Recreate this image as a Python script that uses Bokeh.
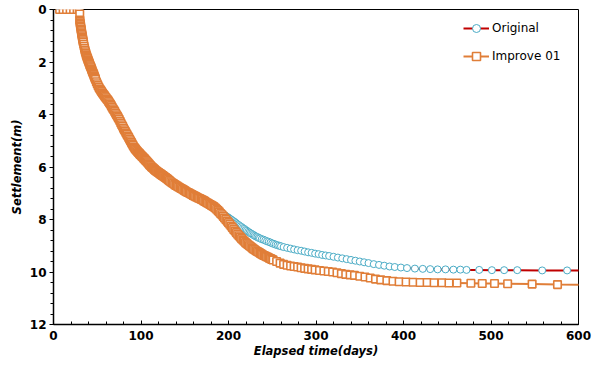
from bokeh.plotting import figure
from bokeh.models import Range1d, FixedTicker, Legend, LegendItem
from bokeh.embed import file_html
from bokeh.resources import INLINE

# ---- data (elapsed time in days, settlement in m) ----
# shared part of both curves (before they separate at ~185 days)
t_common = [7, 11, 15, 19, 23, 27, 29.5, 30, 30,
            30.25, 30.5, 30.75, 31, 31.25, 31.5, 31.75, 32, 32.25, 32.5, 32.75, 33, 33.25, 33.5, 33.75, 34,
            34.5, 35, 35.5, 36, 36.5, 37, 37.5, 38, 38.5, 39, 39.5, 40, 40.5, 41, 41.5, 42, 42.5, 43, 43.5,
            44, 44.5, 45, 45.5, 46, 46.5, 47, 47.5, 48,
            49, 50, 51, 52, 53, 54, 55, 56, 57, 58, 59, 60, 61, 62, 63, 64, 65, 66, 67, 68, 69, 70,
            71, 72, 73, 74, 75, 76, 77, 78, 79, 80, 81, 82, 83, 84, 85, 86, 87, 88, 89, 90,
            91, 92, 93, 94, 95, 96, 97, 98, 99, 100, 101, 102, 103, 104, 105, 106, 107, 108, 109, 110,
            111, 112, 113, 114, 115, 116, 117, 118, 119, 120, 121, 122, 123, 124, 125, 126, 127, 128, 129, 130, 131,
            132.5, 134, 135.5, 137, 138.5, 140, 141.5, 143, 144.5, 146, 147.5, 149, 150.5, 152, 153.5, 155,
            156.5, 158, 159.5, 161, 162.5, 164, 165.5, 167, 168.5, 170, 171.5, 173, 174.5, 176, 177.5, 179,
            180.5, 182, 183.5, 185]
s_common = [0, 0, 0, 0, 0, 0, 0, 0.17, 0.40,
            0.46, 0.52, 0.575, 0.63, 0.685, 0.74, 0.795, 0.85, 0.90, 0.95, 1.00, 1.05, 1.095, 1.14, 1.19, 1.24,
            1.32, 1.40, 1.48, 1.55, 1.61, 1.67, 1.73, 1.78, 1.83, 1.87, 1.92, 1.96, 2.01, 2.05, 2.10, 2.14, 2.18, 2.22, 2.27,
            2.31, 2.36, 2.40, 2.44, 2.48, 2.53, 2.57, 2.62, 2.66,
            2.75, 2.83, 2.90, 2.97, 3.03, 3.08, 3.13, 3.18, 3.23, 3.27, 3.32, 3.36, 3.41, 3.45, 3.50, 3.55, 3.60, 3.66, 3.72, 3.78, 3.83, 3.89,
            3.95, 4.01, 4.06, 4.12, 4.18, 4.25, 4.32, 4.39, 4.45, 4.52, 4.58, 4.64, 4.70, 4.76, 4.82, 4.88, 4.94, 5.00, 5.06, 5.12,
            5.18, 5.24, 5.29, 5.33, 5.37, 5.41, 5.45, 5.48, 5.52, 5.55, 5.59, 5.62, 5.66, 5.69, 5.73, 5.76, 5.80, 5.84, 5.88, 5.92,
            5.95, 5.99, 6.02, 6.05, 6.08, 6.11, 6.14, 6.16, 6.19, 6.21, 6.24, 6.26, 6.28, 6.31, 6.33, 6.35, 6.38, 6.40, 6.43, 6.45, 6.48,
            6.52, 6.56, 6.60, 6.63, 6.67, 6.70, 6.73, 6.76, 6.79, 6.82, 6.85, 6.88, 6.91, 6.94, 6.97, 6.99,
            7.02, 7.05, 7.08, 7.10, 7.13, 7.15, 7.18, 7.20, 7.23, 7.25, 7.28, 7.31, 7.34, 7.37, 7.40, 7.43,
            7.46, 7.49, 7.52, 7.56]

t_orig_tail = [186.5, 188, 189.5, 191, 192.5, 194, 195.5, 197, 198.5, 200, 201.5, 203, 204.5, 206, 207.5, 209,
               210.5, 212, 213.5, 215, 216.5, 218, 219.5, 221, 222.5, 224, 225.5, 227, 228.5, 230, 231.5, 233,
               234.5, 236, 238, 240, 242, 244, 246, 248, 250, 252, 254, 256, 258, 260,
               263, 267, 271, 275, 279, 283, 287, 291, 295, 299,
               303, 307, 311, 315, 320, 325, 330, 335, 340, 345, 350, 355, 360, 366, 372, 378, 384,
               390, 397, 404, 413, 422, 430.5, 439, 448, 457, 465, 472, 486.5, 501, 515, 530, 558.5, 587, 640]
s_orig_tail = [7.60, 7.64, 7.68, 7.72, 7.76, 7.80, 7.84, 7.87, 7.90, 7.93, 7.97, 8.00, 8.04, 8.07, 8.11, 8.15,
               8.19, 8.22, 8.26, 8.29, 8.33, 8.36, 8.40, 8.43, 8.47, 8.50, 8.53, 8.56, 8.59, 8.62, 8.65, 8.67,
               8.70, 8.72, 8.75, 8.77, 8.80, 8.83, 8.85, 8.88, 8.91, 8.93, 8.96, 8.98, 9.00, 9.02,
               9.05, 9.08, 9.11, 9.14, 9.17, 9.19, 9.22, 9.25, 9.27, 9.30,
               9.32, 9.35, 9.37, 9.39, 9.42, 9.45, 9.48, 9.51, 9.54, 9.57, 9.60, 9.63, 9.66, 9.70, 9.73, 9.76, 9.79,
               9.81, 9.83, 9.85, 9.87, 9.88, 9.89, 9.90, 9.90, 9.91, 9.91, 9.92, 9.92, 9.93, 9.93, 9.93, 9.94, 9.94, 9.95]

t_imp_tail = [186.5, 188, 189.5, 191, 192.5, 194, 195.5, 197, 198.5, 200, 201.5, 203, 204.5, 206, 207.5, 209,
              210.5, 212, 213.5, 215, 216.5, 218, 219.5, 221, 222.5, 224, 225.5, 227, 228.5, 230, 231.5, 233,
              234.5, 236, 237.5, 239, 240.5, 242, 243.5, 245, 246.5, 248, 249.5, 251,
              255, 259, 263, 267, 271, 275, 279, 283, 287, 291, 295, 299,
              304, 309, 314, 319, 324, 329, 334, 339, 344, 350, 356, 362, 368, 374, 381, 388, 395,
              403, 411, 419, 427, 435, 444, 452, 461, 477, 490, 504, 519, 547, 576, 640]
s_imp_tail = [7.61, 7.66, 7.71, 7.77, 7.82, 7.88, 7.94, 8.00, 8.06, 8.12, 8.18, 8.25, 8.31, 8.38, 8.44, 8.50,
              8.56, 8.62, 8.67, 8.73, 8.78, 8.83, 8.88, 8.92, 8.96, 9.00, 9.04, 9.08, 9.12, 9.15, 9.19, 9.22,
              9.25, 9.28, 9.31, 9.34, 9.37, 9.39, 9.42, 9.44, 9.47, 9.49, 9.52, 9.54,
              9.60, 9.66, 9.71, 9.74, 9.77, 9.79, 9.81, 9.84, 9.86, 9.88, 9.90, 9.92,
              9.94, 9.96, 9.98, 10.00, 10.03, 10.06, 10.09, 10.11, 10.13, 10.16, 10.19, 10.23, 10.27, 10.30, 10.33, 10.35, 10.37,
              10.38, 10.39, 10.40, 10.40, 10.41, 10.41, 10.42, 10.42, 10.43, 10.44, 10.44, 10.45, 10.46, 10.48, 10.50]

series_names = ["Original", "Improve 01"]
x_ticks = [0, 100, 200, 300, 400, 500, 600]
y_ticks = [0, 2, 4, 6, 8, 10, 12]

t_orig = t_common + t_orig_tail
s_orig = s_common + s_orig_tail
t_imp = t_common + t_imp_tail
s_imp = s_common + s_imp_tail

FONT = "DejaVu Sans"
ORANGE = "#E07E38"
BLUE = "#4BACC6"
RED = "#C00000"

p = figure(width=600, height=360, output_backend="svg", toolbar_location=None,
           x_range=Range1d(0, 600), y_range=Range1d(12, 0),
           min_border_left=53, min_border_right=22, min_border_top=9, min_border_bottom=34)
p.background_fill_color = "white"
p.border_fill_color = "white"
p.outline_line_color = "black"
p.outline_line_width = 1
p.xgrid.visible = False
p.ygrid.visible = False

# x axis
xa = p.xaxis[0]
xa.ticker = FixedTicker(ticks=x_ticks, minor_ticks=list(range(0, 601, 20)))
xa.axis_label = "Elapsed time(days)"
xa.major_tick_in = 4
xa.major_tick_out = 0
xa.minor_tick_in = 3
xa.minor_tick_out = 0
xa.major_label_standoff = 6
xa.axis_label_standoff = 1

# y axis
ya = p.yaxis[0]
ya.ticker = FixedTicker(ticks=y_ticks, minor_ticks=[i * 0.4 for i in range(31)])
ya.axis_label = "Settlement(m)"
ya.major_tick_in = 0
ya.major_tick_out = 4
ya.minor_tick_in = 0
ya.minor_tick_out = 3
ya.major_label_standoff = 3
ya.axis_label_standoff = 3

for ax in (xa, ya):
    ax.axis_line_width = 1.5
    ax.axis_line_color = "black"
    ax.major_tick_line_color = "black"
    ax.minor_tick_line_color = "black"
    ax.major_tick_line_width = 1
    ax.minor_tick_line_width = 1
    ax.major_label_text_font = FONT
    ax.major_label_text_font_style = "bold"
    ax.major_label_text_font_size = "12px"
    ax.major_label_text_color = "black"
    ax.axis_label_text_font = FONT
    ax.axis_label_text_font_style = "bold italic"
    ax.axis_label_text_font_size = "11.5px"
    ax.axis_label_text_color = "black"

# Original
l1 = p.line(t_orig, s_orig, line_color=RED, line_width=2)
m1 = p.scatter(t_orig, s_orig, marker="circle", size=7, fill_color="white",
               line_color=BLUE, line_width=1)
# Improve 01
l2 = p.line(t_imp, s_imp, line_color=ORANGE, line_width=2)
m2 = p.scatter(t_imp, s_imp, marker="square", size=7.5, fill_color="white",
               line_color=ORANGE, line_width=1.6)

legend = Legend(items=[LegendItem(label=series_names[0], renderers=[l1, m1]),
                       LegendItem(label=series_names[1], renderers=[l2, m2])],
                location=(410, 258), border_line_color=None, background_fill_alpha=0,
                glyph_width=26, glyph_height=20, spacing=8, padding=6, margin=0,
                label_standoff=3, label_text_font=FONT, label_text_font_size="12px",
                label_text_color="black")
p.add_layout(legend)

open("out.html", "w").write(file_html(p, INLINE))
